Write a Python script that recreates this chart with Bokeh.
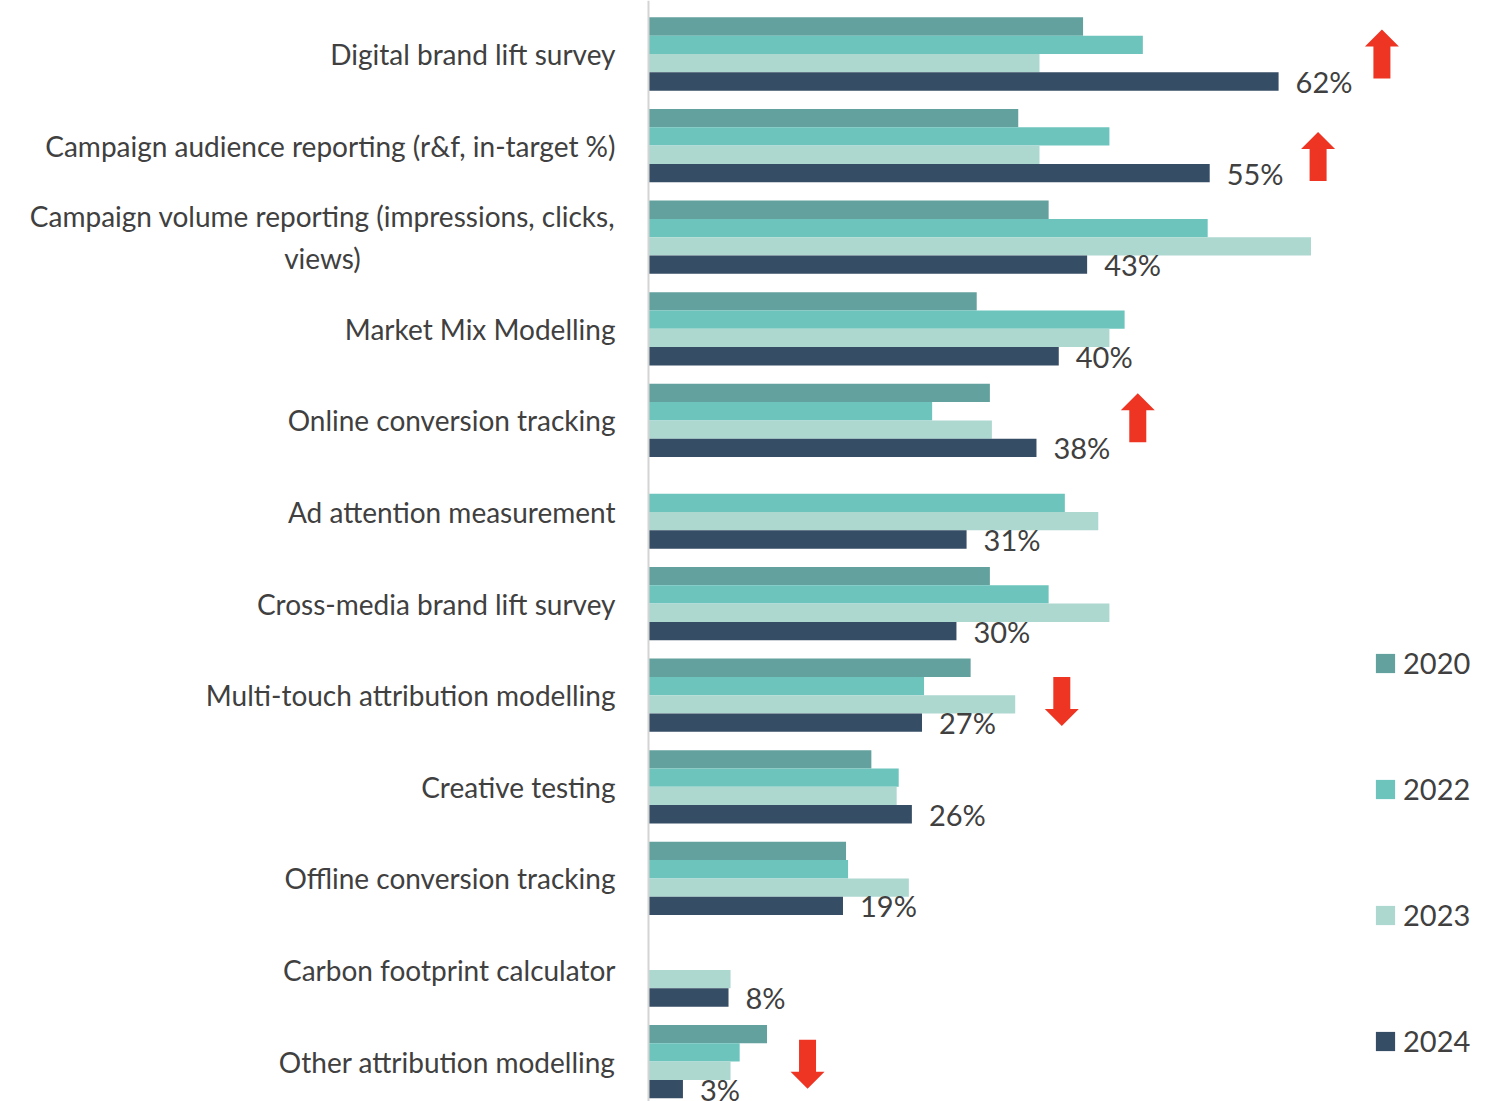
import math
from bokeh.plotting import figure
from bokeh.models import Range1d, Span, Legend, LegendItem, ColumnDataSource
from bokeh.core.properties import value
from bokeh.embed import file_html
from bokeh.resources import INLINE

nan = float("nan")

categories = [
    "Digital brand lift survey",
    "Campaign audience reporting (r&f, in-target %)",
    "Campaign volume reporting (impressions, clicks,\nviews)",
    "Market Mix Modelling",
    "Online conversion tracking",
    "Ad attention measurement",
    "Cross-media brand lift survey",
    "Multi-touch attribution modelling",
    "Creative testing",
    "Offline conversion tracking",
    "Carbon footprint calculator",
    "Other attribution modelling",
]
years = ["2020", "2022", "2023", "2024"]
v2020 = [42.9, 36.5, 39.5, 32.4, 33.7, nan, 33.7, 31.8, 22.0, 19.5, nan, 11.7]
v2022 = [48.8, 45.5, 55.2, 47.0, 28.0, 41.1, 39.5, 27.2, 24.7, 19.7, nan, 9.0]
v2023 = [38.6, 38.6, 65.4, 45.5, 33.9, 44.4, 45.5, 36.2, 24.5, 25.7, 8.1, 8.1]
v2024 = [62.2, 55.4, 43.3, 40.5, 38.3, 31.4, 30.4, 27.0, 26.0, 19.2, 7.9, 3.4]

# trend arrows: category index, direction, x position (in % units), vertical nudge
arrow_index = [0, 1, 4, 7, 11]
arrow_dir = ["up", "up", "up", "down", "down"]
arrow_x = [72.4, 66.1, 48.3, 40.8, 15.7]
arrow_dy = [0.0, 0.12, -0.03, 0.07, 0.03]

colors = ["#62A19E", "#6CC4BD", "#ADD8D0", "#364D66"]
TEXT = "#404040"
FONT = "Lato"

PX_X = 10.13   # px per %
PX_Y = 91.6    # px per category
W, H = 1498, 1101

x0_px = 648.0  # axis position inside frame
y0_px = 53.5   # first group centre
x_start = -x0_px / PX_X
x_end = (W - x0_px) / PX_X
y_top = (0 - y0_px) / PX_Y
y_bot = (H - y0_px) / PX_Y

p = figure(width=W, height=H, output_backend="svg", toolbar_location=None,
           x_range=Range1d(x_start, x_end), y_range=Range1d(y_bot, y_top),
           min_border=0)
p.axis.visible = False
p.grid.visible = False
p.outline_line_color = None

p.add_layout(Span(location=0, dimension="height", line_color="#D4D4D4", line_width=2))

idx = list(range(len(categories)))
offsets = [-0.3, -0.1, 0.1, 0.3]
series = [v2020, v2022, v2023, v2024]
renderers = []
for vals, off, col in zip(series, offsets, colors):
    src = ColumnDataSource(dict(y=[i + off for i in idx], right=vals))
    r = p.hbar(y="y", left=0, right="right", height=0.2, source=src,
               fill_color=col, line_color=None)
    renderers.append(r)

# value labels for 2024
lab_src = ColumnDataSource(dict(
    x=[v + 17 / PX_X for v in v2024],
    y=[i + 0.3 for i in idx],
    t=[f"{round(v)}%" for v in v2024]))
p.text(x="x", y="y", text="t", source=lab_src, text_align="left",
       text_baseline="middle", text_font=value(FONT), text_font_size="29px",
       text_color=TEXT)

# category labels
single = [(i, c) for i, c in zip(idx, categories) if "\n" not in c]
multi = [(i, c) for i, c in zip(idx, categories) if "\n" in c]
cat_src = ColumnDataSource(dict(x=[-33 / PX_X] * len(single),
                                y=[i for i, _ in single],
                                t=[c for _, c in single]))
p.text(x="x", y="y", text="t", source=cat_src, text_align="right",
       text_baseline="middle", text_font=value(FONT), text_font_size="28px",
       text_color=TEXT)
multi_src = ColumnDataSource(dict(x=[-326 / PX_X] * len(multi),
                                  y=[i for i, _ in multi],
                                  t=[c for _, c in multi]))
p.text(x="x", y="y", text="t", source=multi_src, text_align="center",
       text_baseline="middle", text_font=value(FONT), text_font_size="28px",
       text_color=TEXT, text_line_height=1.22)

# arrows
aw = 17 / PX_X
sw = 8.5 / PX_X
ah = 24.5 / PX_Y
hh = 17 / PX_Y
xs_list, ys_list = [], []
for i, d, ax, dy in zip(arrow_index, arrow_dir, arrow_x, arrow_dy):
    yc = i + dy
    s = -1 if d == "up" else 1   # up means smaller y (inverted axis)
    tip = yc + s * ah
    base = tip - s * hh
    tail = yc - s * ah
    xs_list.append([ax, ax + aw, ax + sw, ax + sw, ax - sw, ax - sw, ax - aw])
    ys_list.append([tip, base, base, tail, tail, base, base])
p.patches(xs=xs_list, ys=ys_list, fill_color="#EE3524", line_color=None)

legend = Legend(items=[LegendItem(label=y, renderers=[r]) for y, r in zip(years, renderers)],
                location=(1373, 43), orientation="vertical",
                glyph_width=24, glyph_height=24, label_height=24, spacing=91,
                padding=0, margin=0, label_standoff=6,
                label_text_font=FONT, label_text_font_size="29px",
                label_text_color=TEXT, border_line_alpha=0,
                background_fill_alpha=0)
p.add_layout(legend)

open("out.html", "w").write(file_html(p, INLINE))
